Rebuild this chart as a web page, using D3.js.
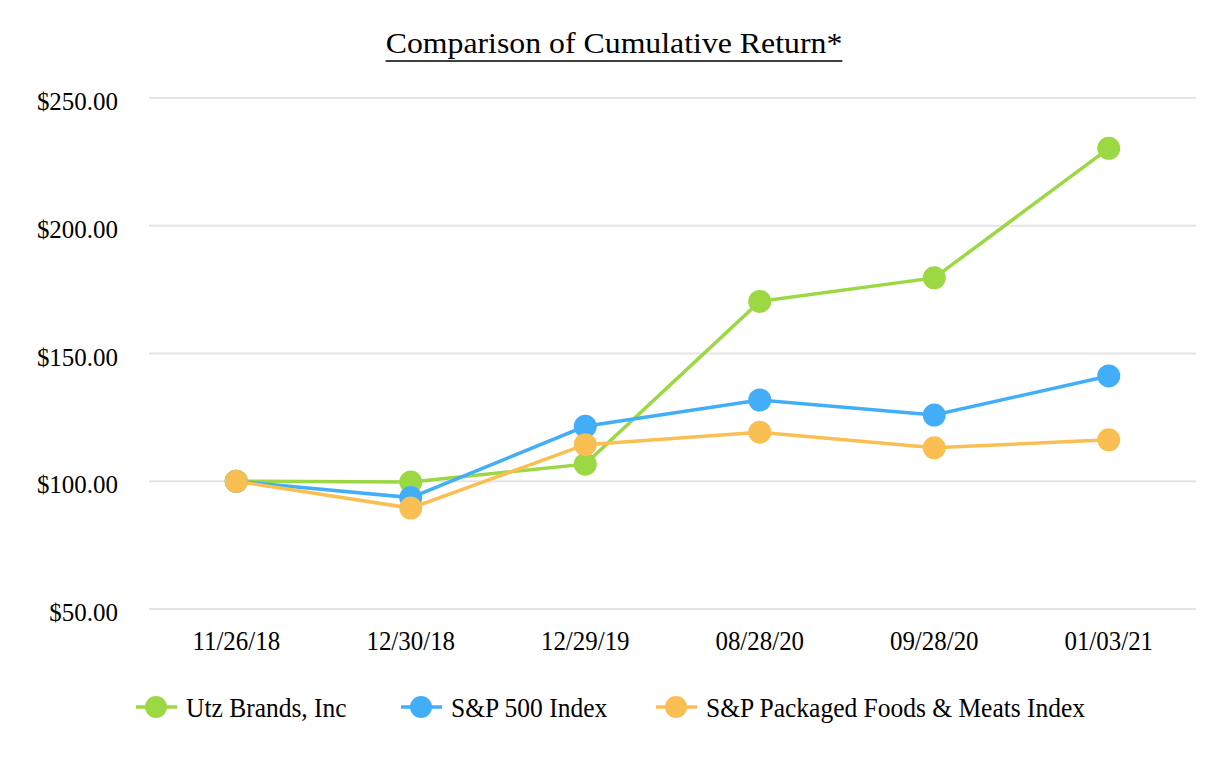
<!DOCTYPE html>
<html><head><meta charset="utf-8">
<script src="https://cdn.jsdelivr.net/npm/d3@7"></script>
<style>body{margin:0;background:#fff}svg{display:block}</style>
</head><body><svg id="c" width="1226" height="760"></svg>
<script>
const categories = ["11/26/18","12/30/18","12/29/19","08/28/20","09/28/20","01/03/21"];
const utz = [100.0, 99.7, 106.7, 170.4, 179.6, 230.3];
const sp500 = [100.0, 93.6, 121.5, 131.8, 125.9, 141.2];
const foods = [100.0, 89.5, 114.3, 119.2, 113.1, 116.2];
const seriesNames = ["Utz Brands, Inc","S&P 500 Index","S&P Packaged Foods & Meats Index"];
const colors = ["#9BD843","#42AEF8","#F9BF52"];
const yTicks = [50,100,150,200,250];

const FONT = "'Liberation Serif'";
const svg = d3.select("#c");
const x = d3.scaleBand().domain(categories).range([149,1196]);
const y = d3.scaleLinear().domain([50,250]).range([609,98]);

// squeeze/stretch text horizontally around its anchor
function fit(sel, factor){
  sel.each(function(){
    const len = this.getComputedTextLength();
    d3.select(this).attr("textLength", len*factor).attr("lengthAdjust","spacingAndGlyphs");
  });
}

const title = svg.append("text").attr("x",614).attr("y",53).attr("text-anchor","middle")
  .style("font-family",FONT).style("font-size","30px").attr("fill","#000")
  .text("Comparison of Cumulative Return*");
fit(title, 1.06);
const tb = title.node().getBBox();
svg.append("line").attr("x1",tb.x).attr("x2",tb.x+tb.width).attr("y1",61).attr("y2",61)
  .attr("stroke","#000").attr("stroke-width",1.5);

svg.append("g").selectAll("line").data(yTicks).join("line")
  .attr("x1",149).attr("x2",1196).attr("y1",d=>y(d)).attr("y2",d=>y(d))
  .attr("stroke","#e4e4e4").attr("stroke-width",2);

const fmt = d3.format("$.2f");
const yAxis = svg.append("g").attr("transform","translate(149,0)")
  .call(d3.axisLeft(y).tickValues(yTicks).tickFormat(d=>fmt(d)).tickSize(0).tickPadding(31));
yAxis.select(".domain").remove();
yAxis.selectAll("text").style("font-family",FONT).style("font-size","26px")
  .attr("fill","#000").attr("dy","0.45em");
fit(yAxis.selectAll("text"), 0.96);

const xAxis = svg.append("g").attr("transform","translate(0,609)")
  .call(d3.axisBottom(x).tickSize(0).tickPadding(21));
xAxis.select(".domain").remove();
xAxis.selectAll("text").style("font-family",FONT).style("font-size","28px").attr("fill","#000");
fit(xAxis.selectAll("text"), 0.89);

const all = [utz, sp500, foods];
const line = d3.line().x((d,i)=>x(categories[i])+x.bandwidth()/2).y(d=>y(d));
all.forEach((s,k)=>{
  svg.append("path").datum(s).attr("d",line).attr("fill","none")
    .attr("stroke",colors[k]).attr("stroke-width",3.5);
});
all.forEach((s,k)=>{
  svg.append("g").selectAll("circle").data(s).join("circle")
    .attr("cx",(d,i)=>x(categories[i])+x.bandwidth()/2).attr("cy",d=>y(d))
    .attr("r",11.5).attr("fill",colors[k]);
});

const legX = [156,421,676];
const lg = svg.append("g");
seriesNames.forEach((n,k)=>{
  lg.append("line").attr("x1",legX[k]-20).attr("x2",legX[k]+21).attr("y1",707).attr("y2",707)
    .attr("stroke",colors[k]).attr("stroke-width",3.5);
  lg.append("circle").attr("cx",legX[k]).attr("cy",707).attr("r",11).attr("fill",colors[k]);
  const t = lg.append("text").attr("x",legX[k]+30).attr("y",707).attr("dy","0.36em")
    .style("font-family",FONT).style("font-size","28px").attr("fill","#000").text(n);
  fit(t, 0.91);
});
</script></body></html>
